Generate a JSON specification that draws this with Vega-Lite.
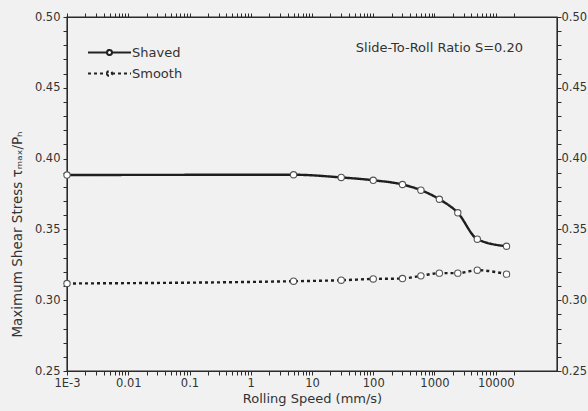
{
  "$schema": "https://vega.github.io/schema/vega-lite/v6.json",
  "width": 490,
  "height": 354,
  "autosize": {"type": "none"},
  "padding": {"left": 67, "top": 17, "right": 31, "bottom": 40},
  "background": "#f1f1f1",
  "config": {
    "font": "DejaVu Sans",
    "view": {"stroke": "#2a2a2a", "strokeWidth": 1.4},
    "axis": {"labelFont": "DejaVu Sans", "labelFontSize": 11.5, "labelColor": "#333", "titleFont": "DejaVu Sans", "titleFontSize": 13, "titleFontWeight": "normal", "titleColor": "#333", "labelFlush": false}
  },
  "title": {"text": "Slide-To-Roll Ratio S=0.20", "anchor": "end", "frame": "group", "orient": "top", "offset": -50, "dx": -34, "baseline": "middle", "font": "DejaVu Sans", "fontSize": 13, "fontWeight": "normal", "color": "#333"},
  "data": {"values": [
    {"series": "Shaved", "speed": 0.001, "stress": 0.3884},
    {"series": "Shaved", "speed": 5, "stress": 0.3886},
    {"series": "Shaved", "speed": 30, "stress": 0.3867},
    {"series": "Shaved", "speed": 100, "stress": 0.3847},
    {"series": "Shaved", "speed": 300, "stress": 0.3817},
    {"series": "Shaved", "speed": 600, "stress": 0.3777},
    {"series": "Shaved", "speed": 1200, "stress": 0.3713},
    {"series": "Shaved", "speed": 2400, "stress": 0.3617},
    {"series": "Shaved", "speed": 5000, "stress": 0.3431},
    {"series": "Shaved", "speed": 15000, "stress": 0.3381},
    {"series": "Smooth", "speed": 0.001, "stress": 0.3118},
    {"series": "Smooth", "speed": 5, "stress": 0.3134},
    {"series": "Smooth", "speed": 30, "stress": 0.3141},
    {"series": "Smooth", "speed": 100, "stress": 0.3150},
    {"series": "Smooth", "speed": 300, "stress": 0.3153},
    {"series": "Smooth", "speed": 600, "stress": 0.3172},
    {"series": "Smooth", "speed": 1200, "stress": 0.3191},
    {"series": "Smooth", "speed": 2400, "stress": 0.3191},
    {"series": "Smooth", "speed": 5000, "stress": 0.3212},
    {"series": "Smooth", "speed": 15000, "stress": 0.3184}
  ]},
  "layer": [
    {
      "mark": {"type": "line", "interpolate": "monotone", "strokeWidth": 2.4, "color": "#1e1e1e"},
      "encoding": {
        "x": {"field": "speed", "type": "quantitative", "scale": {"type": "log", "domain": [0.001, 28000]},
              "axis": {"title": "Rolling Speed (mm/s)", "grid": false, "domainColor": "#2a2a2a", "tickColor": "#2a2a2a", "tickSize": 4, "labelPadding": 2.5, "labelOverlap": false,
                       "values": [0.001,0.002,0.003,0.004,0.005,0.006,0.007,0.008,0.009,0.01,0.02,0.03,0.04,0.05,0.06,0.07,0.08,0.09,0.1,0.2,0.3,0.4,0.5,0.6,0.7,0.8,0.9,1,2,3,4,5,6,7,8,9,10,20,30,40,50,60,70,80,90,100,200,300,400,500,600,700,800,900,1000,2000,3000,4000,5000,6000,7000,8000,9000,10000,20000],
                       "labelExpr": "datum.value < 0.002 ? '1E-3' : (abs(log(datum.value)/LN10 - round(log(datum.value)/LN10)) < 0.001 ? format(datum.value, '') : '')",
                       "titleX": 245, "titleY": 27, "titleBaseline": "middle", "titleAlign": "center"}},
        "y": {"field": "stress", "type": "quantitative", "scale": {"domain": [0.25, 0.5], "zero": false, "nice": false},
              "axis": {"title": "Maximum Shear Stress τₘₐₓ/Pₕ", "grid": false, "domainColor": "#2a2a2a", "tickColor": "#2a2a2a", "tickSize": 4, "labelPadding": 3, "labelOverlap": false,
                       "values": [0.25,0.26,0.27,0.28,0.29,0.3,0.31,0.32,0.33,0.34,0.35,0.36,0.37,0.38,0.39,0.4,0.41,0.42,0.43,0.44,0.45,0.46,0.47,0.48,0.49,0.5],
                       "labelExpr": "abs(datum.value * 20 - round(datum.value * 20)) < 0.001 ? format(datum.value, '.2f') : ''",
                       "titleX": -50, "titleY": 217, "titleFontSize": 13.5, "titleAngle": -90, "titleBaseline": "middle", "titleAlign": "center"}},
        "strokeDash": {"field": "series", "type": "nominal", "scale": {"domain": ["Shaved", "Smooth"], "range": [[1, 0], [3, 3]]},
                       "legend": {"orient": "none", "legendX": 34, "legendY": 27, "title": null, "padding": 0,
                                  "symbolType": "M-3,0L-0.35,0M0.35,0L3,0M-0.35,0A0.35,0.35,0,1,1,0.35,0A0.35,0.35,0,1,1,-0.35,0",
                                  "symbolSize": 205, "symbolStrokeWidth": 2.2, "symbolStrokeColor": "#222", "symbolFillColor": "#ffffff",
                                  "labelFont": "DejaVu Sans", "labelFontSize": 13, "labelColor": "#333", "labelOffset": 14, "rowPadding": 5}}
      }
    },
    {
      "mark": {"type": "point", "shape": "circle", "filled": true, "fill": "#ffffff", "stroke": "#555", "strokeWidth": 1.1, "size": 40, "opacity": 1},
      "encoding": {
        "x": {"field": "speed", "type": "quantitative",
              "axis": {"title": null, "labels": false, "grid": false, "domainColor": "#2a2a2a", "tickColor": "#2a2a2a", "tickSize": 4,
                       "values": [0.001,0.002,0.003,0.004,0.005,0.006,0.007,0.008,0.009,0.01,0.02,0.03,0.04,0.05,0.06,0.07,0.08,0.09,0.1,0.2,0.3,0.4,0.5,0.6,0.7,0.8,0.9,1,2,3,4,5,6,7,8,9,10,20,30,40,50,60,70,80,90,100,200,300,400,500,600,700,800,900,1000,2000,3000,4000,5000,6000,7000,8000,9000,10000,20000]}},
        "y": {"field": "stress", "type": "quantitative",
              "axis": {"title": null, "grid": false, "domainColor": "#2a2a2a", "tickColor": "#2a2a2a", "tickSize": 4, "labelPadding": 0, "labelOverlap": false,
                       "values": [0.25,0.26,0.27,0.28,0.29,0.3,0.31,0.32,0.33,0.34,0.35,0.36,0.37,0.38,0.39,0.4,0.41,0.42,0.43,0.44,0.45,0.46,0.47,0.48,0.49,0.5],
                       "labelExpr": "abs(datum.value * 20 - round(datum.value * 20)) < 0.001 ? format(datum.value, '.2f') : ''"}}
      }
    }
  ],
  "resolve": {"axis": {"x": "independent", "y": "independent"}}
}
